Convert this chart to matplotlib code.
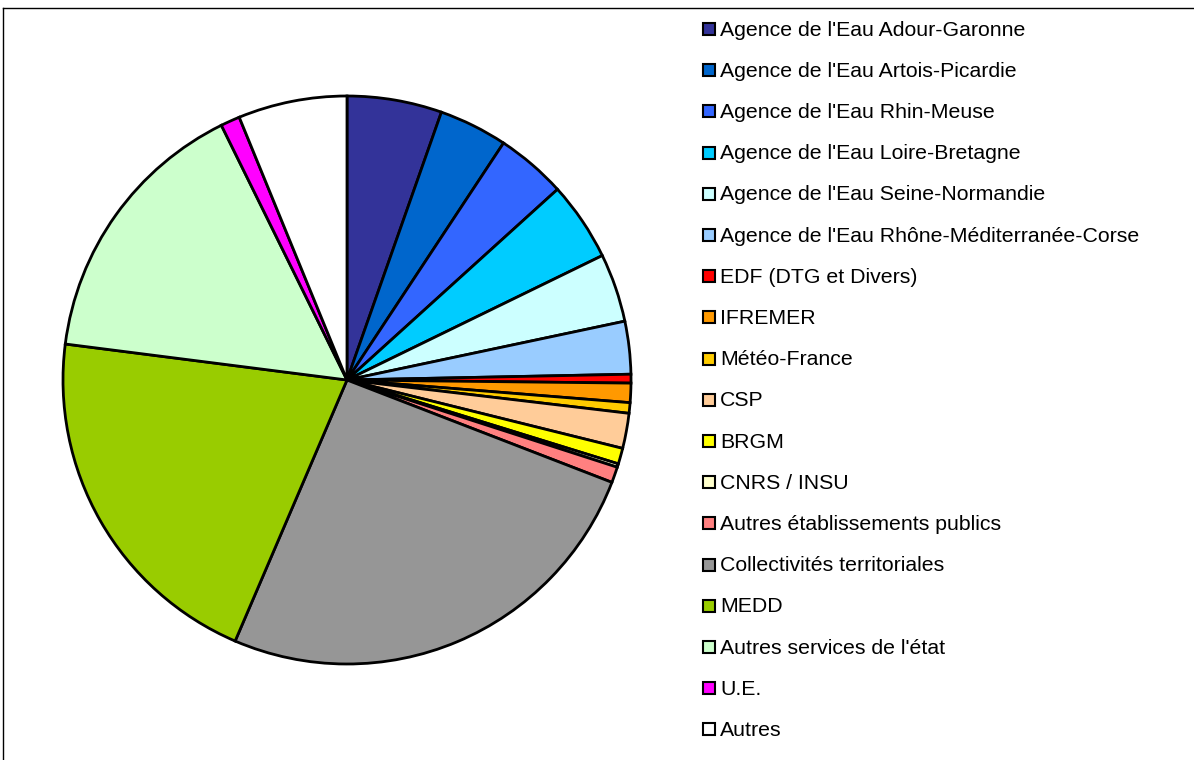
import matplotlib
matplotlib.use("Agg")
import matplotlib.pyplot as plt
from matplotlib.patches import Rectangle
from matplotlib.lines import Line2D

plt.rcParams["font.family"] = ["Liberation Sans", "DejaVu Sans"]

labels = [
    "Agence de l'Eau Adour-Garonne",
    "Agence de l'Eau Artois-Picardie",
    "Agence de l'Eau Rhin-Meuse",
    "Agence de l'Eau Loire-Bretagne",
    "Agence de l'Eau Seine-Normandie",
    "Agence de l'Eau Rhône-Méditerranée-Corse",
    "EDF (DTG et Divers)",
    "IFREMER",
    "Météo-France",
    "CSP",
    "BRGM",
    "CNRS / INSU",
    "Autres établissements publics",
    "Collectivités territoriales",
    "MEDD",
    "Autres services de l'état",
    "U.E.",
    "Autres",
]

# shares in percent
values = [5.4, 3.9, 4.0, 4.5, 3.9, 3.0, 0.5, 1.1, 0.6, 2.0,
          0.9, 0.2, 0.9, 25.6, 20.6, 15.7, 1.1, 6.2]

colors = [
    "#333399", "#0066CC", "#3366FF", "#00CCFF", "#CCFFFF", "#99CCFF",
    "#FF0000", "#FF9900", "#FFCC00", "#FFCC99", "#FFFF00", "#FFFFCC",
    "#FF8080", "#969696", "#99CC00", "#CCFFCC", "#FF00FF", "#FFFFFF",
]

W, H = 1194, 760
fig = plt.figure(figsize=(W / 100, H / 100), dpi=100)

# pie centred at (347, 380) px with radius ~284 px
cx, cy, r = 347, 380, 284
ax = fig.add_axes([(cx - r) / W, (H - cy - r) / H, 2 * r / W, 2 * r / H])
ax.pie(
    values,
    colors=colors,
    startangle=90,
    counterclock=False,
    radius=1,
    wedgeprops={"edgecolor": "black", "linewidth": 2.0},
)
ax.set_xlim(-1.0, 1.0)
ax.set_ylim(-1.0, 1.0)
ax.axis("off")

# legend drawn by hand to match row pitch
x_box, y_first, pitch, box = 703, 29, 41.2, 12
for i, (lab, col) in enumerate(zip(labels, colors)):
    y = y_first + i * pitch
    fig.patches.append(Rectangle(
        (x_box / W, (H - y - box / 2) / H), box / W, box / H,
        facecolor=col, edgecolor="black", linewidth=1.5,
        transform=fig.transFigure, figure=fig,
    ))
    fig.text((x_box + 17) / W, (H - y - 1) / H, lab, fontsize=15.3,
             va="center", ha="left", color="black")

# chart frame: only top and left edges are visible
fig.add_artist(Line2D([3 / W, 1], [(H - 8) / H, (H - 8) / H],
                      color="black", linewidth=1, transform=fig.transFigure))
fig.add_artist(Line2D([3 / W, 3 / W], [0, (H - 8) / H],
                      color="black", linewidth=1, transform=fig.transFigure))

fig.savefig("out.png", dpi=100)
